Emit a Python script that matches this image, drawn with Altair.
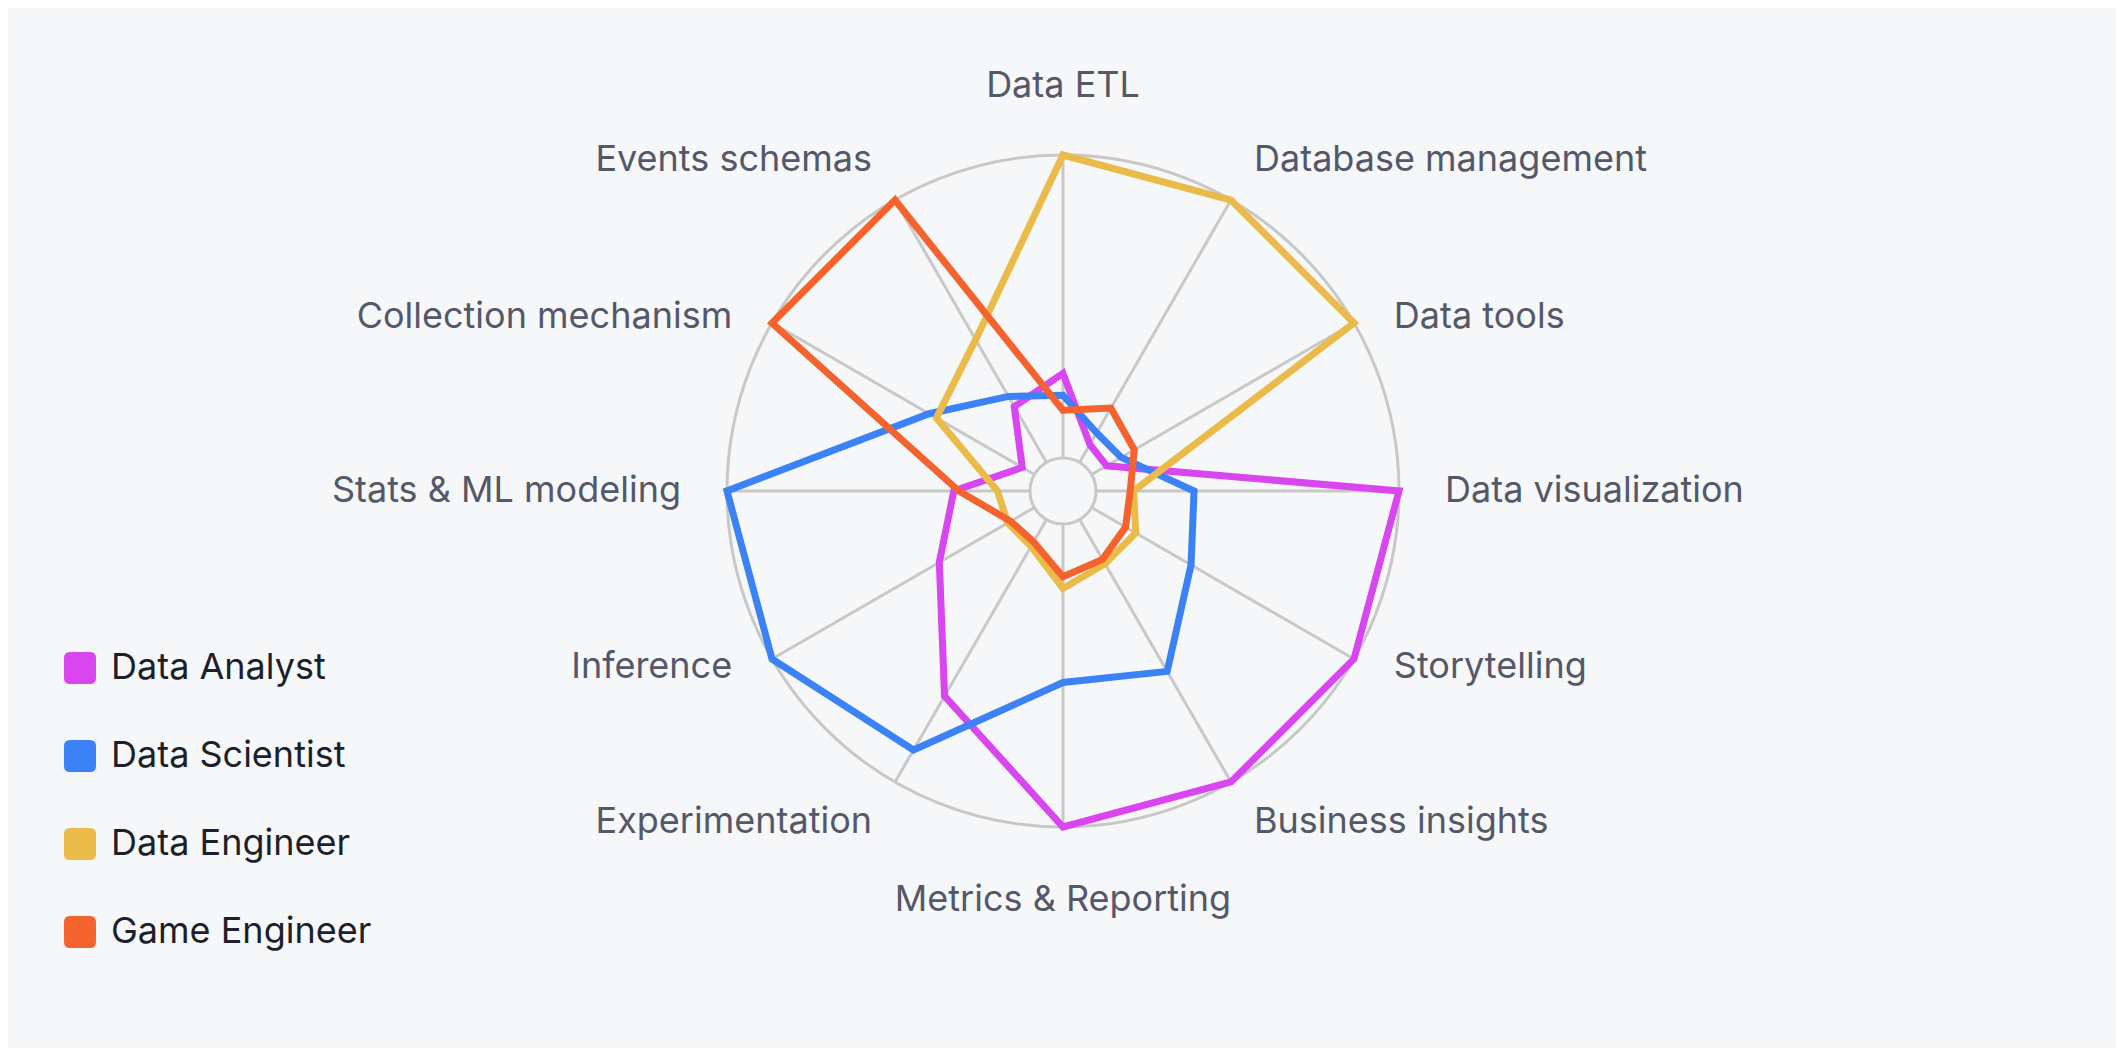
import math
import altair as alt
import pandas as pd

# ---------------- data ----------------
AXES = [
    "Data ETL", "Database management", "Data tools", "Data visualization",
    "Storytelling", "Business insights", "Metrics & Reporting", "Experimentation",
    "Inference", "Stats & ML modeling", "Collection mechanism", "Events schemas",
]
SERIES = ["Data Analyst", "Data Scientist", "Data Engineer", "Game Engineer"]

DATA_ANALYST = [35, 16, 15, 100, 100, 100, 100, 70.5, 42.5, 32.5, 14, 29]
DATA_SCIENTIST = [28.5, 20, 20, 39, 44, 62, 57, 89, 100, 100, 46, 32.5]
DATA_ENGINEER = [100, 100, 100, 21, 25, 25, 29, 19, 19, 19.5, 43.5, 52]
GAME_ENGINEER = [24, 28.5, 24.5, 20, 21.5, 23.5, 25.5, 17.5, 18, 31, 100, 100]

# ---------------- style ----------------
COLORS = ["#D946EF", "#3B82F6", "#EBBB4A", "#F4632E"]
BG = "#F6F7F9"
GRID = "#C8C8C8"
LABEL_COLOR = "#545869"
LEGEND_COLOR = "#1D1F2A"
FONT = "Inter"
FONT_SIZE = 36

W, H = 2108, 1040
CX, CY = 1055, 483      # centre of the radar in chart pixels
R = 336                 # outer radius (value 100)
R_IN = 33               # inner hole radius
LABEL_R = 382

N = len(AXES)
STEP = 2 * math.pi / N

x_scale = alt.Scale(domain=[-CX, W - CX], nice=False, zero=False)
y_scale = alt.Scale(domain=[-(H - CY), CY], nice=False, zero=False)

SWATCH = ("M-0.625,-1 L0.625,-1 Q1,-1 1,-0.625 L1,0.625 Q1,1 0.625,1 "
          "L-0.625,1 Q-1,1 -1,0.625 L-1,-0.625 Q-1,-1 -0.625,-1 Z")

# ---------------- tables ----------------
series_values = [DATA_ANALYST, DATA_SCIENTIST, DATA_ENGINEER, GAME_ENGINEER]
poly_rows = []
for s, vals in zip(SERIES, series_values):
    for i, (ax, v) in enumerate(zip(AXES, vals)):
        poly_rows.append({"series": s, "axis": ax, "idx": i, "value": v})
poly_df = pd.DataFrame(poly_rows)

spoke_df = pd.DataFrame({"axis": AXES, "idx": list(range(N))})

# label anchoring: (align, baseline, lineHeight) chosen from the axis angle
label_rows = []
for i, ax in enumerate(AXES):
    a = i * STEP
    s, c = math.sin(a), math.cos(a)
    if abs(s) < 1e-6:
        align = "center"
    else:
        align = "left" if s > 0 else "right"
    lh = 0
    if c > 0.99:
        base, lh = "line-bottom", 44
    elif c < -0.99:
        base, lh = "line-top", 56
    elif 0.3 < abs(c) < 0.7:
        if c > 0:
            base = "top"
        else:
            base, lh = "line-bottom", 29
    else:
        base = "middle"
    label_rows.append({"axis": ax, "idx": i, "align": align,
                       "baseline": base, "lh": lh})
label_df = pd.DataFrame(label_rows)

X = lambda f: alt.X(f"{f}:Q", scale=x_scale, axis=None)
Y = lambda f: alt.Y(f"{f}:Q", scale=y_scale, axis=None)

# ---------------- grid ----------------
spokes = alt.Chart(spoke_df).transform_calculate(
    x1=f"{R_IN}*sin(datum.idx*{STEP})",
    y1=f"{R_IN}*cos(datum.idx*{STEP})",
    x2=f"{R}*sin(datum.idx*{STEP})",
    y2=f"{R}*cos(datum.idx*{STEP})",
).mark_rule(color=GRID, strokeWidth=3).encode(
    x=X("x1"), y=Y("y1"), x2="x2:Q", y2="y2:Q"
)

centre_df = pd.DataFrame({"cx": [0], "cy": [0]})
outer_circle = alt.Chart(centre_df).mark_point(
    shape="circle", filled=False, color=GRID, strokeWidth=3, opacity=1,
    size=(2 * R) ** 2,
).encode(x=X("cx"), y=Y("cy"))
inner_circle = alt.Chart(centre_df).mark_point(
    shape="circle", filled=False, color=GRID, strokeWidth=3, opacity=1,
    size=(2 * R_IN) ** 2,
).encode(x=X("cx"), y=Y("cy"))

# ---------------- polygons ----------------
poly_base = alt.Chart(poly_df).transform_calculate(
    px=f"datum.value/100*{R}*sin(datum.idx*{STEP})",
    py=f"datum.value/100*{R}*cos(datum.idx*{STEP})",
)

line_layers = []
for s in SERIES:
    line_layers.append(
        poly_base.transform_filter(alt.datum.series == s).mark_line(
            strokeWidth=7, interpolate="linear-closed", strokeJoin="miter"
        ).encode(
            x=X("px"), y=Y("py"),
            stroke=alt.Stroke("series:N",
                              scale=alt.Scale(domain=SERIES, range=COLORS),
                              legend=None),
            order=alt.Order("idx:Q"),
        )
    )

legend_layer = poly_base.mark_point(
    shape=SWATCH, filled=True, opacity=0, strokeWidth=0
).encode(
    x=X("px"), y=Y("py"),
    fill=alt.Fill(
        "series:N", scale=alt.Scale(domain=SERIES, range=COLORS),
        legend=alt.Legend(
            orient="none", legendX=54, legendY=642, title=None,
            symbolType=SWATCH, symbolSize=1024, symbolOpacity=1,
            symbolStrokeWidth=0, labelFont=FONT, labelFontSize=FONT_SIZE,
            labelColor=LEGEND_COLOR, labelOffset=13, rowPadding=52,
            padding=0, labelLimit=500,
        ),
    ),
)

# ---------------- axis labels ----------------
label_layers = []
for (al, bl, lh), grp in label_df.groupby(["align", "baseline", "lh"]):
    extra = {"lineHeight": int(lh)} if lh else {}
    label_layers.append(
        alt.Chart(grp[["axis", "idx"]].reset_index(drop=True)).transform_calculate(
            lx=f"{LABEL_R}*sin(datum.idx*{STEP})",
            ly=f"{LABEL_R}*cos(datum.idx*{STEP})",
        ).mark_text(
            align=al, baseline=bl, font=FONT, fontSize=FONT_SIZE,
            color=LABEL_COLOR, **extra
        ).encode(x=X("lx"), y=Y("ly"), text="axis:N")
    )

chart = alt.layer(
    spokes, outer_circle, inner_circle, *line_layers, legend_layer, *label_layers
).resolve_scale(stroke="independent", fill="independent").properties(
    width=W, height=H, background=BG, padding=0,
    autosize=alt.AutoSizeParams(type="none"),
).configure_view(strokeWidth=0)

chart.save("out.html", embed_options={"renderer": "svg", "actions": False})
